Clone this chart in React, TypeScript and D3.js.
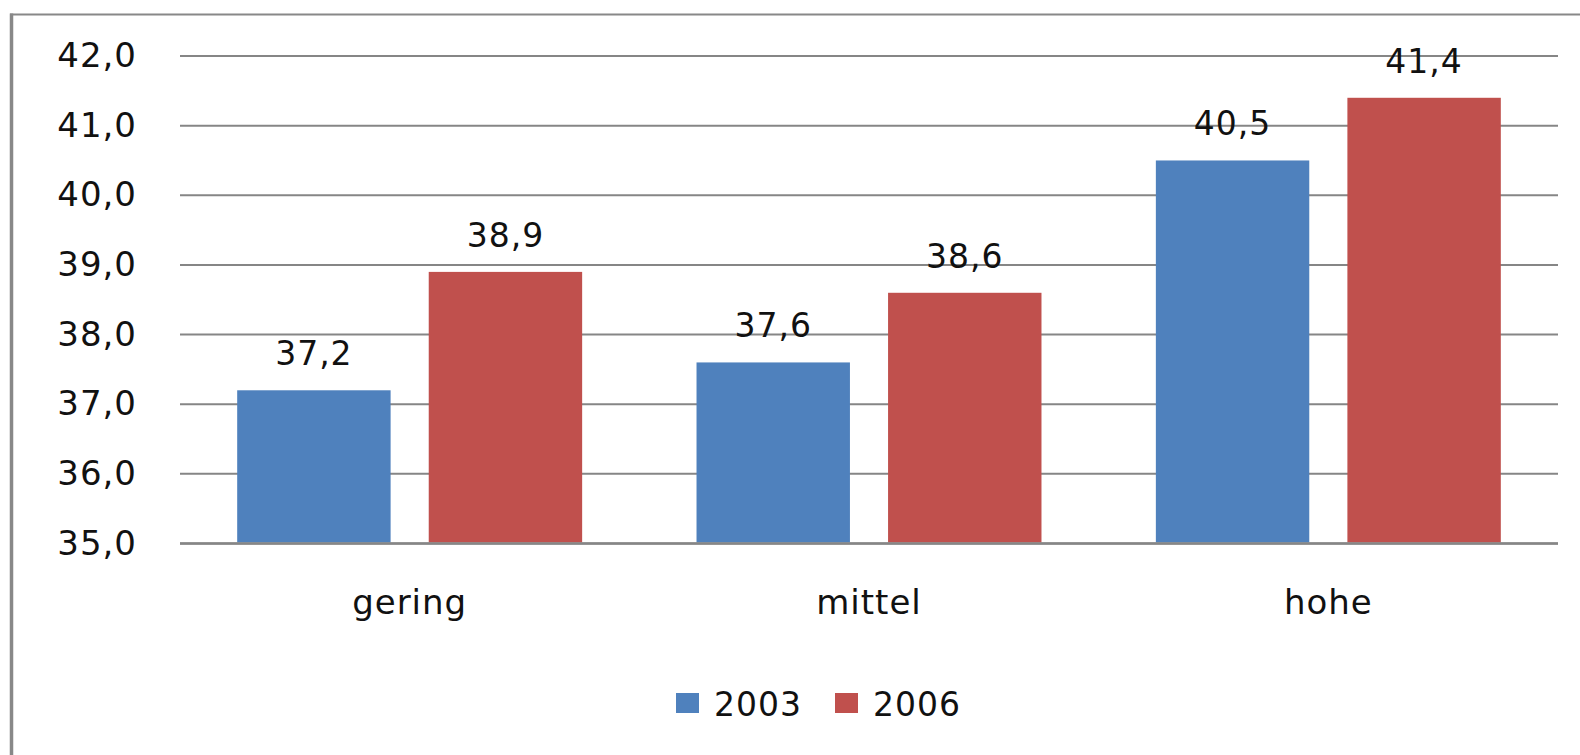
import React from "react";
import * as d3 from "d3";

const categories = ["gering", "mittel", "hohe"];
const seriesNames = ["2003", "2006"];
const values2003 = [37.2, 37.6, 40.5];
const values2006 = [38.9, 38.6, 41.4];
const yTicks = [35, 36, 37, 38, 39, 40, 41, 42];
const colors = ["#4F81BD", "#C0504D"];

const W = 1580;
const H = 755;
const FONT = "'DejaVu Sans', Verdana, sans-serif";

export default function App() {
  const x0 = d3.scaleBand<string>().domain(categories).range([180, 1558]).paddingInner(0).paddingOuter(0);
  const bw = x0.bandwidth();
  const barW = bw * 0.334;
  const gap = bw * 0.083;
  const y = d3.scaleLinear().domain([35, 42]).range([543.5, 56]);
  const fmt = (v: number) => v.toFixed(1).replace(".", ",");
  const series = [values2003, values2006];

  return (
    <svg width={W} height={H} style={{ position: "absolute", left: 0, top: 0 }} fontFamily={FONT} letterSpacing={1}>
      <rect x={0} y={0} width={W} height={H} fill="#fff" />
      {/* frame */}
      <line x1={10} x2={W} y1={14.5} y2={14.5} stroke="#888" strokeWidth={2} />
      <line x1={11.5} x2={11.5} y1={13.5} y2={H} stroke="#888" strokeWidth={3.5} />
      {/* grid */}
      {yTicks.map((t) => (
        <g key={t}>
          <line x1={180} x2={1558} y1={y(t)} y2={y(t)} stroke="#868686" strokeWidth={2} />
          <text x={137} y={y(t) + 11} textAnchor="end" fontSize={34} fill="#111">
            {fmt(t)}
          </text>
        </g>
      ))}
      {/* bars */}
      {categories.map((c, i) => {
        const center = (x0(c) as number) + bw / 2;
        return (
          <g key={c}>
            {series.map((s, k) => {
              const bx = k === 0 ? center - gap / 2 - barW : center + gap / 2;
              return (
                <g key={k}>
                  <rect x={bx} y={y(s[i])} width={barW} height={y(35) - y(s[i]) - 1} fill={colors[k]} />
                  <text x={bx + barW / 2} y={y(s[i]) - 25} textAnchor="middle" fontSize={33} fill="#111">
                    {fmt(s[i])}
                  </text>
                </g>
              );
            })}
            <text x={center} y={614} textAnchor="middle" fontSize={34} fill="#111">
              {c}
            </text>
          </g>
        );
      })}
      {/* axis line */}
      <line x1={180} x2={1558} y1={y(35)} y2={y(35)} stroke="#868686" strokeWidth={2.5} />
      {/* legend */}
      {seriesNames.map((n, k) => {
        const lx = k === 0 ? 676 : 835;
        return (
          <g key={n}>
            <rect x={lx} y={693} width={23} height={20} fill={colors[k]} />
            <text x={lx + 38} y={716} fontSize={33} fill="#111">
              {n}
            </text>
          </g>
        );
      })}
    </svg>
  );
}
